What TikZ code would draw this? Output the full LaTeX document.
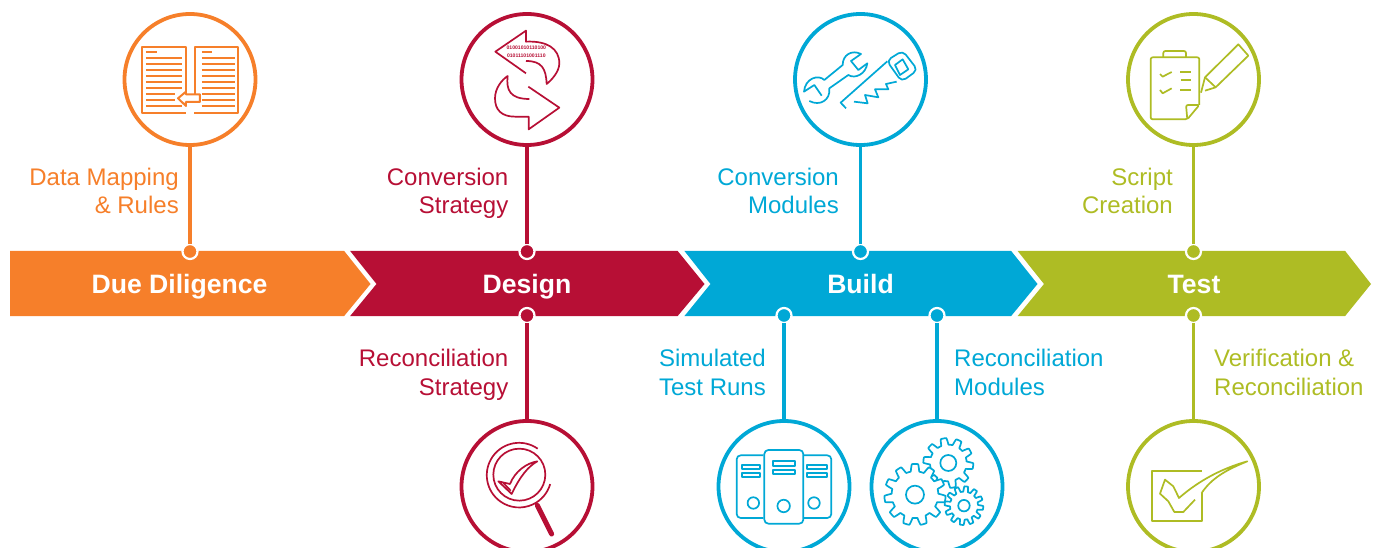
\documentclass[tikz,border=0pt]{standalone}
\usepackage{fontspec}
\setmainfont{Liberation Sans}
\definecolor{cO}{HTML}{F67F2A}
\definecolor{cR}{HTML}{B70F35}
\definecolor{cB}{HTML}{00A8D6}
\definecolor{cG}{HTML}{AEBC24}
\newcommand{\ph}{\vphantom{Agy}}
\tikzset{
  ring/.style={circle,draw=#1,line width=3.8pt,fill=white,minimum size=131pt,inner sep=0pt,outer sep=0pt},
  pin/.style={circle,draw=white,line width=2.2pt,fill=#1,minimum size=15pt,inner sep=0pt,outer sep=0pt},
  stem/.style={draw=#1,line width=3.5pt},
  lab/.style={text=#1,font=\fontsize{24}{28.4}\selectfont,inner sep=0pt},
  band/.style={fill=#1,draw=none},
  bandtxt/.style={text=white,font=\fontsize{26.6}{30}\selectfont\bfseries,inner sep=0pt,anchor=base},
  ico/.style={draw=#1,line width=1.7pt,line join=round,line cap=butt},
}
\newcommand{\gearshape}[7]{%
  \draw[ico=cB,fill=white] plot[samples=#7,domain=0:360,variable=\t]
   ({#1+(#3+#4)/2*cos(\t)+(#3-#4)/2*max(-1,min(1,2.4*sin(#5*\t+#6)))*cos(\t)},
    {#2+(#3+#4)/2*sin(\t)+(#3-#4)/2*max(-1,min(1,2.4*sin(#5*\t+#6)))*sin(\t)}) -- cycle;
}
\begin{document}
\begin{tikzpicture}[x=1pt,y=-1pt]
\useasboundingbox (0,0) rectangle (1381,548);
% ribbon
\path[band=cO] (10,250.8) -- (344,250.8) -- (370.5,284) -- (344,316.2) -- (10,316.2) -- cycle;
\path[band=cR] (350,250.8) -- (677.5,250.8) -- (704.5,284) -- (677.5,316.2) -- (350,316.2) -- (376.5,284) -- cycle;
\path[band=cB] (684.3,250.8) -- (1011,250.8) -- (1037.5,284) -- (1011,316.2) -- (684.3,316.2) -- (710.5,284) -- cycle;
\path[band=cG] (1017.5,250.8) -- (1345,250.8) -- (1371,284) -- (1345,316.2) -- (1017.5,316.2) -- (1044,284) -- cycle;
\node[bandtxt] (t1) at (179.5,293.2) {Due Diligence};
\node[bandtxt] (t2) at (527,293.2) {Design};
\node[bandtxt] (t3) at (860.5,293.2) {Build};
\node[bandtxt] (t4) at (1194,293.2) {Test};
% rings
\node[ring=cO] (c1) at (190,79.5) {};
\node[ring=cR] (c2) at (527,79.5) {};
\node[ring=cB] (c3) at (860.5,79.5) {};
\node[ring=cG] (c4) at (1193.5,79.5) {};
\node[ring=cR] (c5) at (527,486.5) {};
\node[ring=cB] (c6) at (784,486.5) {};
\node[ring=cB] (c7) at (937,486.5) {};
\node[ring=cG] (c8) at (1193.5,486.5) {};
% pins
\node[pin=cO] (p1) at (190,251.5) {};
\node[pin=cR] (p2) at (527,251.5) {};
\node[pin=cB] (p3) at (860.5,251.5) {};
\node[pin=cG] (p4) at (1193.5,251.5) {};
\node[pin=cR] (p5) at (527,315.5) {};
\node[pin=cB] (p6) at (784,315.5) {};
\node[pin=cB] (p7) at (937,315.5) {};
\node[pin=cG] (p8) at (1193.5,315.5) {};
% stems
\draw[stem=cO] (c1) -- (p1);
\draw[stem=cR] (c2) -- (p2);
\draw[stem=cB] (c3) -- (p3);
\draw[stem=cG] (c4) -- (p4);
\draw[stem=cR] (c5) -- (p5);
\draw[stem=cB] (c6) -- (p6);
\draw[stem=cB] (c7) -- (p7);
\draw[stem=cG] (c8) -- (p8);
% labels
\node[lab=cO,anchor=east,align=right] (l1) at (179,193.5) {\ph Data Mapping\\\ph \& Rules};
\node[lab=cR,anchor=east,align=right] (l2) at (508.5,193.5) {\ph Conversion\\\ph Strategy};
\node[lab=cB,anchor=east,align=right] (l3) at (839,193.5) {\ph Conversion\\\ph Modules};
\node[lab=cG,anchor=east,align=right] (l4) at (1173,193.5) {\ph Script\\\ph Creation};
\node[lab=cR,anchor=east,align=right] (l5) at (508.5,374.6) {\ph Reconciliation\\\ph Strategy};
\node[lab=cB,anchor=east,align=right] (l6) at (766,374.6) {\ph Simulated\\\ph Test Runs};
\node[lab=cB,anchor=west,align=left] (l7) at (954,374.6) {\ph Reconciliation\\\ph Modules};
\node[lab=cG,anchor=west,align=left] (l8) at (1214,374.6) {\ph Verification \&\\\ph Reconciliation};
% --- book icon
\begin{scope}[shift={(100,0)},x=0.3333pt,y=-0.3333pt]
\tikzset{every path/.style={ico=cO,line width=2pt}}
\draw (258,340) -- (127,340) -- (127,140) -- (258,140) -- (258,275);
\draw (285,283) -- (285,140) -- (413,140) -- (413,340) -- (283,340);
\draw (285,283) -- (300,283) -- (300,306) -- (258,306) -- (258,318) -- (234,295) -- (258,275) -- (258,283) -- cycle;
\draw (138,156) -- (170,156) (306,156) -- (336,156);
\foreach \yy in {175,192,210,228,246,264} {\draw (138,\yy) -- (246,\yy) (306,\yy) -- (406,\yy);}
\draw (138,282) -- (226,282) (138,300) -- (226,300) (138,318) -- (246,318);
\draw (306,282) -- (406,282) (306,300) -- (406,300) (306,318) -- (406,318);
\end{scope}
% --- arrows icon
\begin{scope}[shift={(440,0)},x=0.3333pt,y=-0.3333pt]
\tikzset{every path/.style={ico=cR}}
\draw (258,220) -- (166,155) -- (258,92) -- (258,125) .. controls (320,122) and (358,145) .. (358,190) .. controls (358,215) and (335,240) .. (320,252) .. controls (318,205) and (305,183) .. (258,183);
\draw (265,260) -- (358,323) -- (266,388) -- (266,350) -- (225,350) .. controls (185,350) and (165,330) .. (165,295) .. controls (165,265) and (185,240) .. (203,228) .. controls (198,270) and (210,297) .. (268,297);
\node[text=cR,font=\fontsize{5.1}{7.6}\selectfont\bfseries,inner sep=0pt,align=center] (bin) at (259,155) {01001010110100\\01011101001110};
\end{scope}
% --- tools icon
\begin{scope}[shift={(780,0)},x=0.3333pt,y=-0.3333pt]
\tikzset{every path/.style={ico=cB}}
\draw (125,287) -- (103,255) -- (72,275) .. controls (75,235) and (115,222) .. (133,240) -- (188,195) .. controls (188,165) and (215,148) .. (243,162) -- (213,183) -- (235,210) -- (262,190) .. controls (258,222) and (225,238) .. (205,225) -- (148,265) .. controls (152,300) and (120,320) .. (88,303);
\draw[rounded corners=5pt] (320,182) -- (368,152) -- (413,210) -- (365,245) -- cycle;
\draw (345,195) -- (368,178) -- (385,208) -- (360,225) -- cycle;
\draw (322,184) -- (182,308) -- (198,325);
\draw (222,305) -- (263,310) -- (255,285) -- (295,292) -- (285,268) -- (325,268) -- (318,252) -- (350,245);
\end{scope}
% --- clipboard icon
\begin{scope}[shift={(1110,0)},x=0.3333pt,y=-0.3333pt]
\tikzset{every path/.style={ico=cG}}
\draw[rounded corners=2pt] (268,315) -- (268,172) -- (122,172) -- (122,358) -- (232,358) -- (268,315) -- (228,315) -- (232,358);
\draw[rounded corners=2pt] (160,172) -- (160,153) -- (228,153) -- (228,172);
\draw (150,222) -- (158,230) -- (185,216) (150,270) -- (158,280) -- (185,265);
\draw (210,217) -- (242,217) (212,241) -- (242,241) (210,270) -- (242,270);
\draw (285,232) -- (385,133) -- (415,167) -- (317,262) -- cycle;
\draw (285,232) -- (273,278) (285,272) -- (317,262);
\end{scope}
% --- magnifier icon
\begin{scope}[shift={(440,408)},x=0.3333pt,y=-0.3333pt]
\tikzset{every path/.style={ico=cR}}
\node[circle,draw=cR,line width=1.7pt,minimum size=52pt,inner sep=0pt] (lens) at (238,200) {};
\draw (293,122) arc[start angle=-55,end angle=-344,radius=97];
\draw[line width=5pt,line cap=round] (292,292) -- (335,378);
\draw (175,220) -- (210,228) .. controls (225,190) and (260,165) .. (292,160) .. controls (265,175) and (240,205) .. (215,258) -- cycle;
\draw (190,225) -- (212,248);
\end{scope}
% --- servers icon
\begin{scope}[shift={(700,408)},x=0.3333pt,y=-0.3333pt]
\tikzset{every path/.style={ico=cB}}
\draw[rounded corners=4pt] (190,142) -- (110,142) -- (110,330) -- (190,330);
\draw[rounded corners=4pt] (312,142) -- (394,142) -- (394,330) -- (312,330);
\draw[rounded corners=4pt] (193,126) rectangle (310,347);
\draw (125,172) rectangle (180,184) (125,194) rectangle (180,206);
\draw (220,160) rectangle (285,174) (220,186) rectangle (285,199);
\draw (322,172) rectangle (380,184) (322,194) rectangle (380,206);
\node[circle,draw=cB,line width=1.7pt,minimum size=11.5pt,inner sep=0pt] (s1) at (160,285) {};
\node[circle,draw=cB,line width=1.7pt,minimum size=12.5pt,inner sep=0pt] (s2) at (251,294) {};
\node[circle,draw=cB,line width=1.7pt,minimum size=11.5pt,inner sep=0pt] (s3) at (342,285) {};
\end{scope}
% --- gears icon
\begin{scope}[shift={(700,408)},x=0.3333pt,y=-0.3333pt]
\gearshape{745}{165}{75}{55}{10}{20}{361}
\gearshape{645}{260}{92}{70}{11}{0}{361}
\gearshape{792}{293}{58}{42}{12}{10}{361}
\node[circle,draw=cB,line width=1.7pt,minimum size=16pt,inner sep=0pt] (g1) at (745,165) {};
\node[circle,draw=cB,line width=1.7pt,minimum size=18pt,inner sep=0pt] (g2) at (645,260) {};
\node[circle,draw=cB,line width=1.7pt,minimum size=11.5pt,inner sep=0pt] (g3) at (792,293) {};
\end{scope}
% --- check icon
\begin{scope}[shift={(1110,408)},x=0.3333pt,y=-0.3333pt]
\tikzset{every path/.style={ico=cG}}
\draw (275,188) -- (126,188) -- (126,338) -- (275,338) -- (275,255);
\draw (255,275) -- (220,312) -- (193,312) -- (175,280) -- (150,257) -- (165,215) -- (190,235) -- (207,270) .. controls (270,215) and (340,180) .. (412,160) .. controls (350,185) and (305,210) .. (275,255);
\end{scope}
\end{tikzpicture}
\end{document}
